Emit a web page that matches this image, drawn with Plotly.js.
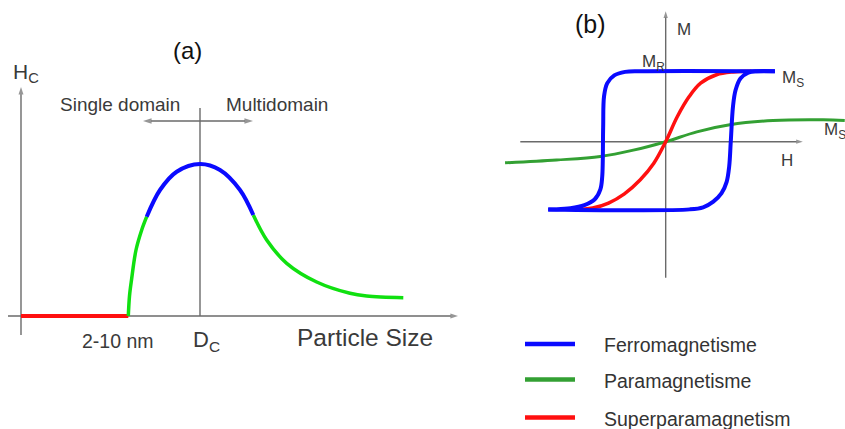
<!DOCTYPE html>
<html><head><meta charset="utf-8">
<script src="https://cdn.plot.ly/plotly-3.0.1.min.js"></script>
<style>html,body{margin:0;padding:0;background:#fff;}#chart{width:845px;height:429px;}</style>
</head><body><div id="chart"></div>
<script>
// ---------- Panel (a): coercivity Hc vs particle size (arbitrary units) ----------
const aSuperX = [0, 10.73];
const aSuperY = [0, 0];
const aRiseX  = [10.73, 10.85, 11.05, 11.5, 12.07, 12.57];
const aRiseY  = [0, 2.0, 3.6, 6.6, 8.6, 9.93];
const aPeakX  = [12.57, 13.9, 15.57, 17.9, 19.9, 21.9, 23.23];
const aPeakY  = [9.93, 12.6, 14.43, 15.2, 14.6, 12.6, 10.1];
const aDecayX = [23.23, 24.57, 26.57, 29.57, 32.9, 34.57, 38.23];
const aDecayY = [10.1, 7.6, 5.27, 3.4, 2.27, 2.0, 1.83];
const criticalSize = 17.9;   // D_C
const domainArrowFrom = 12.2, domainArrowTo = 23.2, domainArrowLevel = 19.5;
const aAxisX = [-1.3, 43.7], aAxisY = [-1.9, 22.9];

// ---------- Panel (b): M vs H loops (arbitrary units, Ms = 1) ----------
const ferroUpperH = [1.72, -0.40, -0.64, -0.81, -0.92, -0.97, -0.985, -1.0, -1.03, -1.12, -1.28, -1.5, -1.72, -1.85];
const ferroUpperM = [1.0, 1.0, 0.99, 0.94, 0.83, 0.65, 0.2, -0.5, -0.68, -0.82, -0.9, -0.945, -0.96, -0.96];
const ferroLowerH = [-1.85, 0.38, 0.59, 0.75, 0.88, 0.96, 1.0, 1.025, 1.06, 1.10, 1.18, 1.30, 1.43, 1.72];
const ferroLowerM = [-0.96, -0.96, -0.93, -0.85, -0.73, -0.57, -0.35, 0, 0.5, 0.73, 0.9, 0.98, 1.0, 1.0];
const superH = [-1.45, -1.15, -0.9, -0.65, -0.4, -0.19, 0, 0.18, 0.37, 0.55, 0.8, 1.06, 1.35];
const superM = [-0.96, -0.94, -0.87, -0.74, -0.54, -0.31, 0, 0.35, 0.64, 0.83, 0.95, 0.99, 1.0];
const paraH = [-2.53, -1.72, -1.03, -0.51, 0, 0.49, 1.01, 1.69, 2.48, 2.82];
const paraM = [-0.30, -0.26, -0.21, -0.12, 0, 0.14, 0.24, 0.30, 0.31, 0.30];
const bAxisH = [-2.29, 2.16], bAxisM = [-1.93, 1.85];

const legendNames  = ['Ferromagnetisme', 'Paramagnetisme', 'Superparamagnetism'];

// ---------- styles ----------
const BLUE = '#0a0aff', GREEN_A = '#10e010', GREEN_B = '#33a033', RED = '#ff1010';
const AXIS = '#6a6a6a';
const FONT = 'Liberation Sans, Arial, sans-serif';
const legendColors = [BLUE, GREEN_B, RED];

function line(x, y, color, width, xa, ya) {
  return {x, y, type: 'scatter', mode: 'lines', xaxis: xa, yaxis: ya,
    line: {color, width, shape: 'spline', smoothing: 1}, hoverinfo: 'skip', showlegend: false};
}
// straight gray line ending in an arrowhead (marker 'arrow' oriented along the segment)
function axisArrow(x, y, xa, ya, headSize) {
  return {x, y, type: 'scatter', mode: 'lines+markers', xaxis: xa, yaxis: ya, cliponaxis: false,
    line: {color: AXIS, width: 1.4},
    marker: {symbol: ['circle', 'arrow'], size: [0, headSize || 8], color: AXIS, angleref: 'previous',
             line: {width: 0}},
    hoverinfo: 'skip', showlegend: false};
}
function plainLine(x, y, xa, ya) {
  return {x, y, type: 'scatter', mode: 'lines', xaxis: xa, yaxis: ya,
    line: {color: AXIS, width: 1.4}, hoverinfo: 'skip', showlegend: false};
}

const traces = [
  // panel (a) axes and guides
  axisArrow([0, 0], aAxisY, 'x', 'y'),
  axisArrow(aAxisX, [0, 0], 'x', 'y'),
  plainLine([criticalSize, criticalSize], [0, 20.8], 'x', 'y'),
  axisArrow([criticalSize, domainArrowFrom], [domainArrowLevel, domainArrowLevel], 'x', 'y', 9),
  axisArrow([criticalSize, domainArrowTo], [domainArrowLevel, domainArrowLevel], 'x', 'y', 9),
  // panel (a) curve
  line(aSuperX, aSuperY, RED, 4, 'x', 'y'),
  line(aRiseX, aRiseY, GREEN_A, 3.5, 'x', 'y'),
  line(aDecayX, aDecayY, GREEN_A, 3.5, 'x', 'y'),
  line(aPeakX, aPeakY, BLUE, 4, 'x', 'y'),
  // panel (b) axes
  axisArrow([0, 0], bAxisM, 'x2', 'y2', 7),
  axisArrow(bAxisH, [0, 0], 'x2', 'y2', 7),
  // panel (b) curves
  line(paraH, paraM, GREEN_B, 3, 'x2', 'y2'),
  line(superH, superM, RED, 3.5, 'x2', 'y2'),
  line(ferroUpperH, ferroUpperM, BLUE, 4, 'x2', 'y2'),
  line(ferroLowerH, ferroLowerM, BLUE, 4, 'x2', 'y2'),
];

// pixel helpers for paper-positioned text
const W = 845, Hh = 429;
const px = v => v / W, py = v => 1 - v / Hh;

function label(text, x, y, size, opts) {
  return Object.assign({xref: 'paper', yref: 'paper', x: px(x), y: py(y), text, showarrow: false,
    xanchor: 'center', yanchor: 'middle', font: {family: FONT, size, color: '#3a3a3a'}}, opts || {});
}

const annotations = [
  // panel (a) text
  label('(a)', 187, 50, 24, {font: {family: FONT, size: 24, color: '#111'}}),
  label('H<sub>C</sub>', 11, 73, 21, {xanchor: 'left'}),
  label('Single domain', 120, 104, 19),
  label('Multidomain', 277, 104, 19),
  label('2-10 nm', 118, 341, 19.5),
  label('D<sub>C</sub>', 191, 341, 22, {xanchor: 'left'}),
  label('Particle Size', 365, 337, 24.5),
  // panel (b) text
  label('(b)', 590, 24, 25, {font: {family: FONT, size: 25, color: '#111'}}),
  label('M', 675, 29, 17, {xanchor: 'left'}),
  label('M<sub>R</sub>', 640, 63, 17, {xanchor: 'left'}),
  label('M<sub>S</sub>', 780, 79, 17, {xanchor: 'left'}),
  label('H', 786.5, 160, 17),
  label('M<sub>S</sub>', 822, 131, 17, {xanchor: 'left'}),
];

const legendY = [344, 379.5, 417.5];
const shapes = [];
legendNames.forEach((name, i) => {
  shapes.push({type: 'line', xref: 'paper', yref: 'paper', x0: px(525), x1: px(575), y0: py(legendY[i]), y1: py(legendY[i]),
    line: {color: legendColors[i], width: 4.5}});
  annotations.push(label(name, 602, legendY[i] + 1, 19.5, {xanchor: 'left', font: {family: FONT, size: 19.5, color: '#333'}}));
});

const layout = {
  width: W, height: Hh,
  margin: {l: 0, r: 0, t: 0, b: 0},
  paper_bgcolor: '#ffffff', plot_bgcolor: 'rgba(0,0,0,0)',
  showlegend: false,
  xaxis:  {domain: [0, 470 / W], range: [-2.1, 44.9], visible: false, fixedrange: true},
  yaxis:  {domain: [0, 1], range: [-11.3, 31.6], visible: false, fixedrange: true},
  xaxis2: {domain: [490 / W, 1], range: [-2.767, 2.824], visible: false, anchor: 'y2', fixedrange: true},
  yaxis2: {domain: [0, 1], range: [(141.7 - 429) / 70.5, 141.7 / 70.5], visible: false, anchor: 'x2', fixedrange: true},
  annotations, shapes,
  hovermode: false,
};

Plotly.newPlot('chart', traces, layout, {staticPlot: true, displayModeBar: false});
</script>
</body></html>
